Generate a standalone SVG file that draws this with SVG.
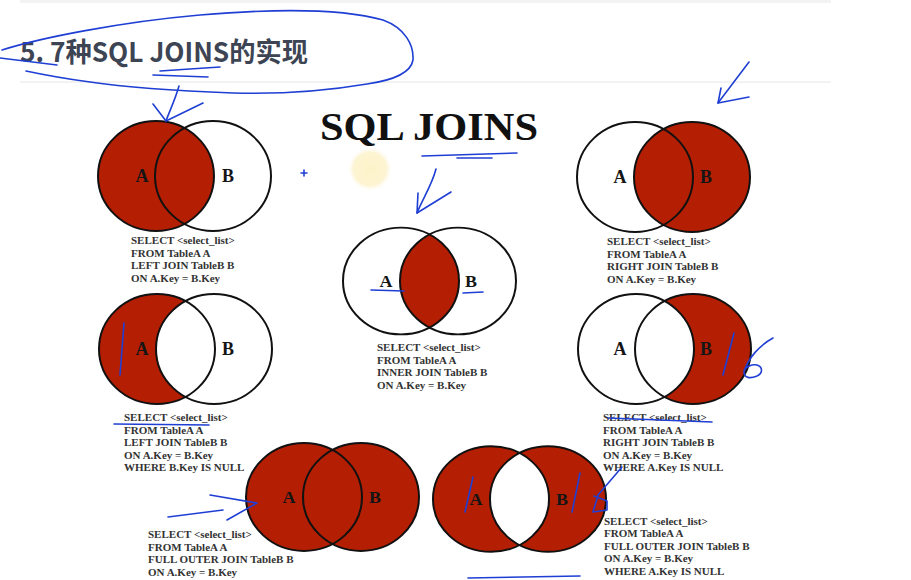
<svg xmlns="http://www.w3.org/2000/svg" xmlns:xlink="http://www.w3.org/1999/xlink" width="911" height="580" viewBox="0 0 911 580">
  <style>
    .red{fill:#b41e02}
    .wht{fill:#ffffff}
    .ol{fill:none;stroke:#111;stroke-width:2}
    .lbl{font-family:"Liberation Serif","Times New Roman",serif;font-weight:bold;font-size:18px;fill:#151515;text-anchor:middle}
    .sql{font-family:"Liberation Serif","Times New Roman",serif;font-weight:bold;font-size:11px;fill:#333}
    .ink{fill:none;stroke:#1f3fd4;stroke-width:1.6;stroke-linecap:round;stroke-linejoin:round}
    .head{font-family:"Noto Sans CJK SC","Noto Sans",sans-serif;font-weight:bold;font-size:27px;fill:#3d4453}
    .title{font-family:"Liberation Serif","Times New Roman",serif;font-weight:bold;font-size:40px;fill:#111}
  </style>
  <defs>
    <ellipse id="ea" cx="0" cy="0" rx="58" ry="55"/>
    <ellipse id="eb" cx="57" cy="0" rx="58" ry="55"/>
    <clipPath id="inB"><ellipse cx="57" cy="0" rx="58" ry="55"/></clipPath>
    <radialGradient id="glow">
      <stop offset="0" stop-color="#fdf2c8"/>
      <stop offset="0.75" stop-color="#fdf4d2"/>
      <stop offset="1" stop-color="#fffaf0" stop-opacity="0"/>
    </radialGradient>
  </defs>

  <rect width="911" height="580" fill="#fff"/>
  <!-- page chrome -->
  <rect x="20" y="0" width="811" height="3" fill="#f3f3f3"/>
  <line x1="20" y1="82" x2="831" y2="82" stroke="#e6e6e6" stroke-width="1"/>
  <text class="head" x="20" y="62" textLength="288" lengthAdjust="spacingAndGlyphs">5. 7种SQL JOINS的实现</text>

  <text class="title" x="320" y="140" textLength="218" lengthAdjust="spacingAndGlyphs">SQL JOINS</text>
  <circle cx="370" cy="169" r="22" fill="url(#glow)"/>

  <!-- LEFT JOIN -->
  <g id="left-join">
    <g transform="translate(156,176)">
      <use href="#eb" class="wht"/>
      <use href="#ea" class="red"/>
      <use href="#ea" class="ol"/>
      <use href="#eb" class="ol"/>
      <text class="lbl" x="-14" y="6">A</text>
      <text class="lbl" x="72" y="6">B</text>
    </g>
    <text class="sql" x="131" y="244">SELECT &lt;select_list&gt;</text>
    <text class="sql" x="131" y="256.5">FROM TableA A</text>
    <text class="sql" x="131" y="269">LEFT JOIN TableB B</text>
    <text class="sql" x="131" y="281.5">ON A.Key = B.Key</text>
  </g>

  <!-- RIGHT JOIN -->
  <g id="right-join">
    <g transform="translate(635,177)">
      <use href="#ea" class="wht"/>
      <use href="#eb" class="red"/>
      <use href="#ea" class="ol"/>
      <use href="#eb" class="ol"/>
      <text class="lbl" x="-15" y="6">A</text>
      <text class="lbl" x="71" y="6">B</text>
    </g>
    <text class="sql" x="607" y="245">SELECT &lt;select_list&gt;</text>
    <text class="sql" x="607" y="257.5">FROM TableA A</text>
    <text class="sql" x="607" y="270">RIGHT JOIN TableB B</text>
    <text class="sql" x="607" y="282.5">ON A.Key = B.Key</text>
  </g>

  <!-- INNER JOIN -->
  <g id="inner-join">
    <g transform="translate(401,281) scale(1,0.97)">
      <use href="#ea" class="wht"/>
      <use href="#eb" class="wht"/>
      <use href="#ea" class="red" clip-path="url(#inB)"/>
      <use href="#ea" class="ol"/>
      <use href="#eb" class="ol"/>
      <text class="lbl" x="-15" y="6">A</text>
      <text class="lbl" x="70" y="6">B</text>
    </g>
    <text class="sql" x="377" y="351">SELECT &lt;select_list&gt;</text>
    <text class="sql" x="377" y="363.5">FROM TableA A</text>
    <text class="sql" x="377" y="376">INNER JOIN TableB B</text>
    <text class="sql" x="377" y="388.5">ON A.Key = B.Key</text>
  </g>

  <!-- LEFT JOIN, B.Key IS NULL -->
  <g id="left-excl">
    <g transform="translate(157,349)">
      <use href="#ea" class="red"/>
      <use href="#eb" class="wht"/>
      <use href="#ea" class="ol"/>
      <use href="#eb" class="ol"/>
      <text class="lbl" x="-15" y="6">A</text>
      <text class="lbl" x="71" y="6">B</text>
    </g>
    <text class="sql" x="124" y="421">SELECT &lt;select_list&gt;</text>
    <text class="sql" x="124" y="433.5">FROM TableA A</text>
    <text class="sql" x="124" y="446">LEFT JOIN TableB B</text>
    <text class="sql" x="124" y="458.5">ON A.Key = B.Key</text>
    <text class="sql" x="124" y="471">WHERE B.Key IS NULL</text>
  </g>

  <!-- RIGHT JOIN, A.Key IS NULL -->
  <g id="right-excl">
    <g transform="translate(636,349)">
      <use href="#eb" class="red"/>
      <use href="#ea" class="wht"/>
      <use href="#ea" class="ol"/>
      <use href="#eb" class="ol"/>
      <text class="lbl" x="-16" y="6">A</text>
      <text class="lbl" x="70" y="6">B</text>
    </g>
    <text class="sql" x="603" y="421">SELECT &lt;select_list&gt;</text>
    <text class="sql" x="603" y="433.5">FROM TableA A</text>
    <text class="sql" x="603" y="446">RIGHT JOIN TableB B</text>
    <text class="sql" x="603" y="458.5">ON A.Key = B.Key</text>
    <text class="sql" x="603" y="471">WHERE A.Key IS NULL</text>
  </g>

  <!-- FULL OUTER JOIN -->
  <g id="full-join">
    <g transform="translate(304,497) scale(1,0.98)">
      <use href="#ea" class="red"/>
      <use href="#eb" class="red"/>
      <use href="#ea" class="ol"/>
      <use href="#eb" class="ol"/>
      <text class="lbl" x="-15" y="6">A</text>
      <text class="lbl" x="71" y="6">B</text>
    </g>
    <text class="sql" x="148" y="538">SELECT &lt;select_list&gt;</text>
    <text class="sql" x="148" y="550.5">FROM TableA A</text>
    <text class="sql" x="148" y="563">FULL OUTER JOIN TableB B</text>
    <text class="sql" x="148" y="575.5">ON A.Key = B.Key</text>
  </g>

  <!-- FULL OUTER JOIN, keys NULL -->
  <g id="full-excl">
    <g transform="translate(491,499) scale(1,0.96)">
      <use href="#ea" class="red"/>
      <use href="#eb" class="red"/>
      <use href="#ea" class="wht" clip-path="url(#inB)"/>
      <use href="#ea" class="ol"/>
      <use href="#eb" class="ol"/>
      <text class="lbl" x="-15" y="6">A</text>
      <text class="lbl" x="71" y="6">B</text>
    </g>
    <text class="sql" x="604" y="524.5">SELECT &lt;select_list&gt;</text>
    <text class="sql" x="604" y="537">FROM TableA A</text>
    <text class="sql" x="604" y="549.5">FULL OUTER JOIN TableB B</text>
    <text class="sql" x="604" y="562">ON A.Key = B.Key</text>
    <text class="sql" x="604" y="574.5">WHERE A.Key IS NULL</text>
    <text class="sql" x="604" y="587">OR B.Key IS NULL</text>
  </g>

  <!-- pen strokes -->
  <g id="ink">
    <!-- loop around heading -->
    <path class="ink" d="M2,50 C40,38 120,22 200,15 C270,9 340,8 383,20 C405,28 414,45 413,60 C411,72 395,80 367,84 C320,92 270,94 233,93 C180,91 130,88 90,82 C60,78 40,74 26,71"/>
    <path class="ink" d="M0,58 L57,65"/>
    <path class="ink" d="M160,71 L220,67"/>
    <path class="ink" d="M153,75 L208,77"/>
    <!-- arrow to left join -->
    <path class="ink" d="M179,86 C175,100 170,110 166,121"/>
    <path class="ink" d="M153,104 L166,121 L203,103"/>
    <path class="ink" d="M304,170 v6 M301,173 h6"/>
    <!-- title underline -->
    <path class="ink" d="M422,156 L517,153"/>
    <path class="ink" d="M457,158 L492,158"/>
    <!-- arrow to inner join -->
    <path class="ink" d="M436,169 C432,185 422,200 417,213"/>
    <path class="ink" d="M418,193 L417,213 L451,192"/>
    <path class="ink" d="M371,290 L404,291"/>
    <path class="ink" d="M463,293 L483,292"/>
    <!-- arrow to right join -->
    <path class="ink" d="M749,62 L718,103"/>
    <path class="ink" d="M721,88 L718,103 L749,97"/>
    <!-- left excl marks -->
    <path class="ink" d="M124,323 L120,375"/>
    <path class="ink" d="M114,424 L209,425"/>
    <!-- right excl marks -->
    <path class="ink" d="M734,333 L723,375"/>
    <path class="ink" d="M773,338 C760,345 748,358 744,372 C744,378 750,379 757,376 C763,373 763,367 757,365 C752,364 747,367 744,370"/>
    <path class="ink" d="M608,418 L712,422"/>
    <!-- full outer excl marks -->
    <path class="ink" d="M622,467 L598,495 L593,512 L607,510 L607,501 L594,496"/>
    <path class="ink" d="M473,477 L465,512"/>
    <path class="ink" d="M580,473 L572,512"/>
    <path class="ink" d="M468,578 L580,576"/>
    <!-- arrow to full outer join -->
    <path class="ink" d="M210,495 L257,503 L227,520"/>
    <path class="ink" d="M168,517 L223,510"/>
  </g>
</svg>
